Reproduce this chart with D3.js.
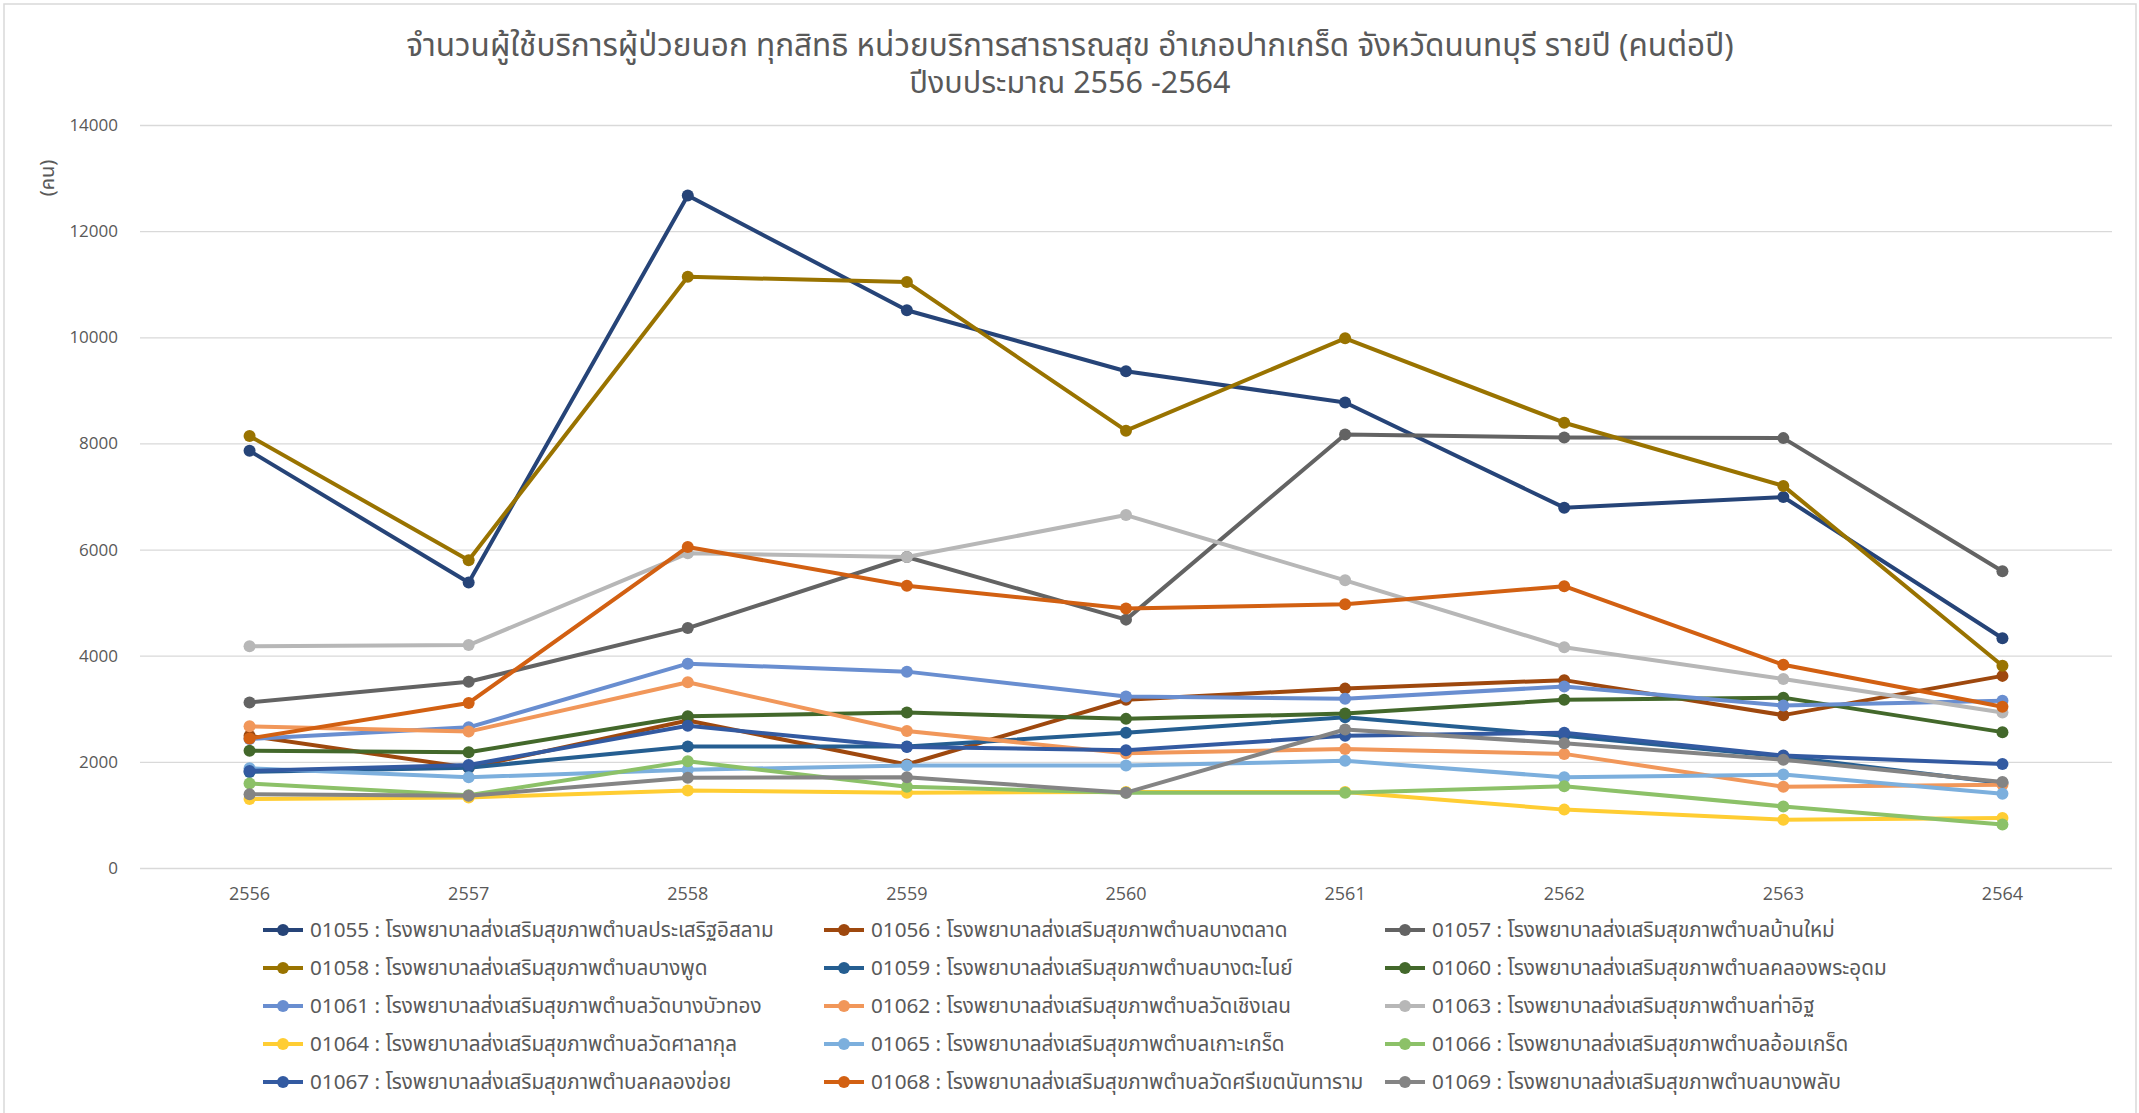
<!DOCTYPE html>
<html>
<head>
<meta charset="utf-8">
<script src="https://cdn.jsdelivr.net/npm/d3@7"></script>
<style>
  body { margin: 0; background: #fff; }
  text { font-family: "Noto Sans Thai", "Leelawadee UI", Tahoma, "Noto Sans", sans-serif; }
</style>
</head>
<body>
<div id="chart"></div>
<script>
// data
const years = ["2556", "2557", "2558", "2559", "2560", "2561", "2562", "2563", "2564"];
const yTicks = [0, 2000, 4000, 6000, 8000, 10000, 12000, 14000];

const titleLines = [
  "จำนวนผู้ใช้บริการผู้ป่วยนอก ทุกสิทธิ หน่วยบริการสาธารณสุข อำเภอปากเกร็ด จังหวัดนนทบุรี รายปี (คนต่อปี)",
  "ปีงบประมาณ 2556 -2564"
];

const seriesNames = [
  "01055 : โรงพยาบาลส่งเสริมสุขภาพตำบลประเสริฐอิสลาม",
  "01056 : โรงพยาบาลส่งเสริมสุขภาพตำบลบางตลาด",
  "01057 : โรงพยาบาลส่งเสริมสุขภาพตำบลบ้านใหม่",
  "01058 : โรงพยาบาลส่งเสริมสุขภาพตำบลบางพูด",
  "01059 : โรงพยาบาลส่งเสริมสุขภาพตำบลบางตะไนย์",
  "01060 : โรงพยาบาลส่งเสริมสุขภาพตำบลคลองพระอุดม",
  "01061 : โรงพยาบาลส่งเสริมสุขภาพตำบลวัดบางบัวทอง",
  "01062 : โรงพยาบาลส่งเสริมสุขภาพตำบลวัดเชิงเลน",
  "01063 : โรงพยาบาลส่งเสริมสุขภาพตำบลท่าอิฐ",
  "01064 : โรงพยาบาลส่งเสริมสุขภาพตำบลวัดศาลากุล",
  "01065 : โรงพยาบาลส่งเสริมสุขภาพตำบลเกาะเกร็ด",
  "01066 : โรงพยาบาลส่งเสริมสุขภาพตำบลอ้อมเกร็ด",
  "01067 : โรงพยาบาลส่งเสริมสุขภาพตำบลคลองข่อย",
  "01068 : โรงพยาบาลส่งเสริมสุขภาพตำบลวัดศรีเขตนันทาราม",
  "01069 : โรงพยาบาลส่งเสริมสุขภาพตำบลบางพลับ"
];

const s01055 = [7860, 5380, 12670, 10510, 9360, 8770, 6790, 6990, 4330];
const s01056 = [2490, 1890, 2780, 1950, 3170, 3380, 3540, 2880, 3620];
const s01057 = [3120, 3510, 4520, 5860, 4680, 8170, 8110, 8100, 5590];
const s01058 = [8140, 5800, 11140, 11040, 8240, 9980, 8390, 7200, 3810];
const s01059 = [1810, 1890, 2290, 2290, 2550, 2840, 2490, 2100, 1600];
const s01060 = [2210, 2180, 2860, 2930, 2810, 2910, 3170, 3210, 2560];
const s01061 = [2430, 2650, 3850, 3700, 3230, 3190, 3420, 3060, 3150];
const s01062 = [2670, 2570, 3500, 2580, 2160, 2240, 2150, 1530, 1570];
const s01063 = [4180, 4200, 5930, 5860, 6650, 5420, 4160, 3560, 2930];
const s01064 = [1300, 1330, 1460, 1420, 1430, 1430, 1100, 910, 940];
const s01065 = [1880, 1710, 1850, 1930, 1930, 2020, 1710, 1760, 1400];
const s01066 = [1590, 1370, 2010, 1530, 1420, 1420, 1540, 1160, 820];
const s01067 = [1830, 1940, 2680, 2280, 2220, 2490, 2550, 2120, 1960];
const s01068 = [2440, 3110, 6050, 5320, 4890, 4970, 5310, 3830, 3040];
const s01069 = [1390, 1360, 1700, 1710, 1420, 2610, 2350, 2040, 1620];

const seriesValues = [s01055, s01056, s01057, s01058, s01059, s01060, s01061, s01062,
  s01063, s01064, s01065, s01066, s01067, s01068, s01069];

const colors = ["#264478", "#9E480E", "#636363", "#997300", "#255E91", "#43682B",
  "#698ED0", "#F1975A", "#B7B7B7", "#FFCD33", "#7CAFDD", "#8CC168",
  "#335AA1", "#D26012", "#848484"];

const W = 2139, H = 1113;
const margin = {top: 125, right: 27, bottom: 245, left: 140};
const width = W - margin.left - margin.right,
  height = H - margin.top - margin.bottom;

const svg = d3.select("#chart")
  .append("svg")
  .attr("width", W)
  .attr("height", H);

// chart frame
svg.append("rect")
  .attr("x", 4).attr("y", 4)
  .attr("width", W - 7).attr("height", H + 10)
  .attr("fill", "#fff")
  .attr("stroke", "#d9d9d9")
  .attr("stroke-width", 1.5);

// title, two lines
svg.selectAll(".title")
  .data(titleLines)
  .enter()
  .append("text")
  .attr("class", "title")
  .attr("x", 1070)
  .attr("y", (d, i) => 56 + i * 37)
  .attr("text-anchor", "middle")
  .attr("fill", "#595959")
  .style("font-size", (d, i) => i === 0 ? "31.5px" : "30.5px")
  .text(d => d);

const g = svg.append("g")
  .attr("transform", "translate(" + margin.left + "," + margin.top + ")");

const x = d3.scaleBand().domain(years).range([0, width]);
const y = d3.scaleLinear().domain([0, 14000]).range([height, 0]);

// gridlines + y labels
const yAxis = g.append("g")
  .call(d3.axisLeft(y).tickValues(yTicks).tickSize(-width).tickPadding(22).tickFormat(d3.format("d")));
yAxis.select(".domain").remove();
yAxis.selectAll("line").attr("stroke", "#d9d9d9").attr("stroke-width", 1.3);
yAxis.selectAll("text").attr("fill", "#595959").style("font-size", "17px")
  .style("font-family", "'Open Sans', 'Noto Sans', sans-serif");

// x labels
const xAxis = g.append("g")
  .attr("transform", "translate(0," + height + ")")
  .call(d3.axisBottom(x).tickSize(0).tickPadding(19));
xAxis.select(".domain").remove();
xAxis.selectAll("text").attr("fill", "#595959").style("font-size", "18px")
  .style("font-family", "'Liberation Sans Narrow', 'Open Sans', sans-serif");

// y axis title
svg.append("text")
  .attr("transform", "translate(54,178) rotate(-90)")
  .attr("text-anchor", "middle")
  .attr("fill", "#595959")
  .style("font-size", "20px")
  .text("(คน)");

const line = d3.line()
  .x((d, i) => x(years[i]) + x.bandwidth() / 2)
  .y(d => y(d));

seriesValues.forEach((vals, si) => {
  const sg = g.append("g");
  sg.append("path")
    .datum(vals)
    .attr("fill", "none")
    .attr("stroke", colors[si])
    .attr("stroke-width", 4)
    .attr("stroke-linejoin", "round")
    .attr("d", line);
  sg.selectAll("circle")
    .data(vals)
    .enter()
    .append("circle")
    .attr("cx", (d, i) => x(years[i]) + x.bandwidth() / 2)
    .attr("cy", d => y(d))
    .attr("r", 6)
    .attr("fill", colors[si]);
});

// legend, 3 columns x 5 rows
const legX = [263, 824, 1385], legY0 = 930, legDy = 38;
const legend = svg.append("g");
seriesNames.forEach((name, i) => {
  const lx = legX[i % 3], ly = legY0 + Math.floor(i / 3) * legDy;
  const item = legend.append("g").attr("transform", "translate(" + lx + "," + ly + ")");
  item.append("line").attr("x1", 0).attr("x2", 40).attr("y1", 0).attr("y2", 0)
    .attr("stroke", colors[i]).attr("stroke-width", 4);
  item.append("circle").attr("cx", 20).attr("cy", 0).attr("r", 6).attr("fill", colors[i]);
  item.append("text").attr("x", 47).attr("y", 0).attr("dy", "0.35em")
    .attr("fill", "#595959").style("font-size", "20.7px").text(name);
});
</script>
</body>
</html>
